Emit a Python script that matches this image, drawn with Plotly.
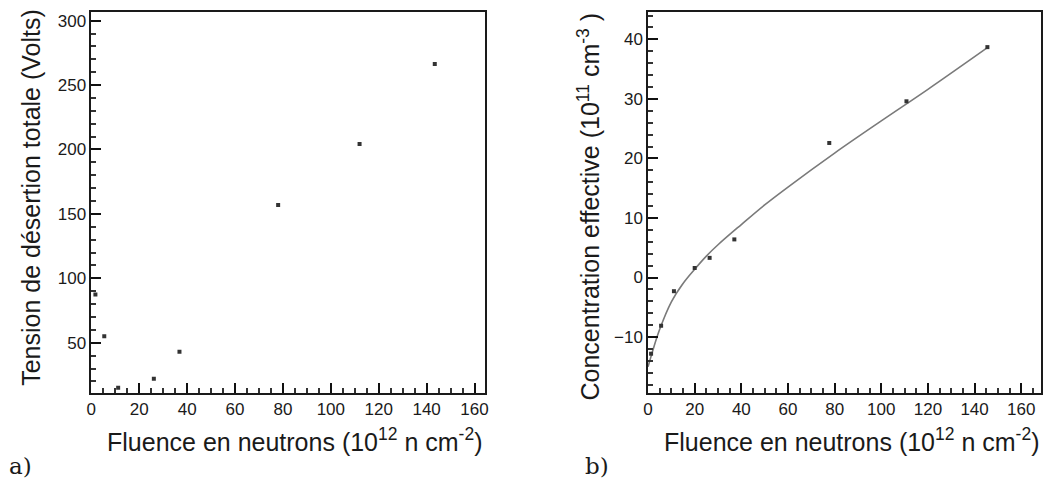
import plotly.graph_objects as go

# ---- data ----
fluence_a = [1.7, 5.4, 11.2, 26.1, 36.8, 78.0, 112.0, 143.4]
tension_a = [87.4, 55.1, 15.1, 22.0, 43.0, 157.0, 204.3, 266.4]

fluence_b = [1.3, 5.6, 11.1, 20.0, 26.4, 37.0, 77.7, 110.8, 145.5]
neff_b = [-12.8, -8.1, -2.3, 1.6, 3.3, 6.4, 22.6, 29.6, 38.7]

fit_x = [0, 2, 5, 10, 15, 20, 25, 30, 40, 50, 60, 80, 100, 120, 145.5]
fit_y = [-15.0, -12.3, -8.7, -4.1, -1.0, 1.4, 3.6, 5.5, 8.9, 12.2, 15.2, 20.9, 26.3, 31.6, 38.6]

x_major_step, x_minor_step = 20, 5
y_major_step_a, y_minor_step_a = 50, 10
y_major_step_b, y_minor_step_b = 10, 2

W, H = 1048, 482
FONT = "Liberation Sans, Arial, Helvetica, sans-serif"
INK = "#1a1a1a"

fig = go.Figure()

fig.add_trace(go.Scatter(x=fluence_a, y=tension_a, mode="markers",
                         marker=dict(symbol="square", size=4, color="#333333"),
                         xaxis="x", yaxis="y", showlegend=False))
fig.add_trace(go.Scatter(x=fit_x, y=fit_y, mode="lines", line=dict(color="#7a7a7a", width=1.6, shape="spline"),
                         xaxis="x2", yaxis="y2", showlegend=False))
fig.add_trace(go.Scatter(x=fluence_b, y=neff_b, mode="markers",
                         marker=dict(symbol="square", size=4, color="#333333"),
                         xaxis="x2", yaxis="y2", showlegend=False))


def px_x(p):
    return p / W


def px_y(p):
    return 1 - p / H


def axis(major, minor_step, **kw):
    d = dict(showgrid=False, zeroline=False, showline=True, linecolor=INK, linewidth=1.5,
             mirror=True, tickmode="linear", tick0=0, dtick=major,
             ticks="inside", ticklen=10, tickwidth=2, tickcolor="#111111",
             tickfont=dict(family=FONT, size=17, color=INK),
             minor=dict(ticks="inside", ticklen=5, tickwidth=1.5, tickcolor="#333333",
                        dtick=minor_step, tick0=0))
    d.update(kw)
    return d


fig.update_layout(
    width=W, height=H, margin=dict(l=0, r=0, t=0, b=0),
    paper_bgcolor="white", plot_bgcolor="white",
    xaxis=axis(x_major_step, x_minor_step, domain=[px_x(87), px_x(484)], range=[0, 164.5], anchor="y"),
    yaxis=axis(y_major_step_a, y_minor_step_a, domain=[px_y(393), px_y(12)], range=[11, 306.7], anchor="x"),
    xaxis2=axis(x_major_step, x_minor_step, domain=[px_x(648), px_x(1044)], range=[0, 168.5], anchor="y2"),
    yaxis2=axis(y_major_step_b, y_minor_step_b, domain=[px_y(393), px_y(12)], range=[-19.4, 44.6], anchor="x2"),
)

title_font = dict(family=FONT, size=25, color=INK)
xtitle = "Fluence en neutrons (10<sup>12</sup> n cm<sup>-2</sup>)"
annotations = [
    dict(text=xtitle, x=px_x(484), y=px_y(440), xanchor="right", yanchor="middle"),
    dict(text=xtitle, x=px_x(1045), y=px_y(440), xanchor="right", yanchor="middle"),
    dict(text="Tension de désertion totale (Volts)", x=px_x(26), y=px_y(197), textangle=-90,
         xanchor="center", yanchor="middle"),
    dict(text="Concentration effective (10<sup>11</sup> cm<sup>-3</sup> )", x=px_x(588), y=px_y(207),
         textangle=-90, xanchor="center", yanchor="middle"),
]
for a in annotations:
    a.update(xref="paper", yref="paper", showarrow=False, font=title_font)

serif = dict(family="DejaVu Serif, Liberation Serif, serif", size=23, color=INK)
annotations += [
    dict(text="a)", x=px_x(2), y=px_y(466), xref="paper", yref="paper", showarrow=False,
         xanchor="left", yanchor="middle", font=serif),
    dict(text="b)", x=px_x(582), y=px_y(466), xref="paper", yref="paper", showarrow=False,
         xanchor="left", yanchor="middle", font=serif),
]
fig.update_layout(annotations=annotations)

fig.write_html("out.html")
